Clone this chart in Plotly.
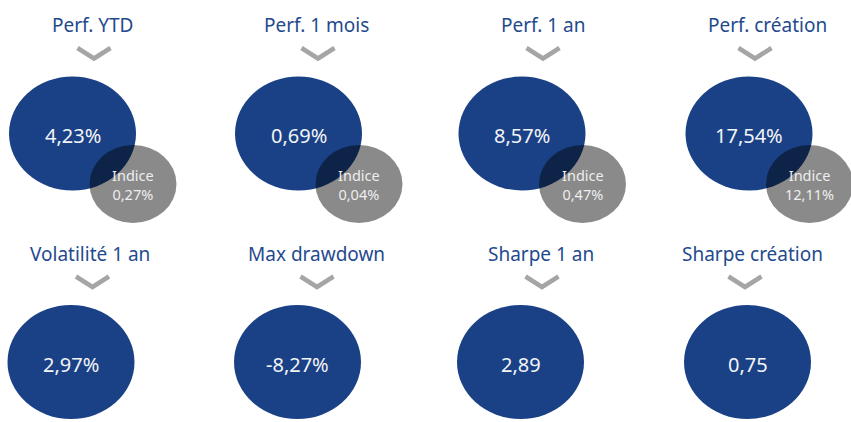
import plotly.graph_objects as go

# ---- data ----
titles = ["Perf. YTD", "Perf. 1 mois", "Perf. 1 an", "Perf. création",
          "Volatilité 1 an", "Max drawdown", "Sharpe 1 an", "Sharpe création"]
fund_values = ["4,23%", "0,69%", "8,57%", "17,54%",
               "2,97%", "-8,27%", "2,89", "0,75"]
index_label = "Indice"
index_values = ["0,27%", "0,04%", "0,47%", "12,11%", None, None, None, None]

# ---- layout constants ----
W, H = 851, 422
BLUE = "#1a4185"
TITLE_BLUE = "#1f4a8e"
CHEV = "#a5a5a5"
FONT = "Noto Sans"

blue_cx = [72.5, 298.5, 522, 749, 71, 297.5, 520.5, 747.5]
row_dy = [0, 0, 0, 0, 228.5, 228.5, 228.5, 228.5]
title_cx = [92, 316, 543, 767, 90, 316.5, 541, 752]
chev_cx = [94, 318, 543, 755, 92.5, 317, 542, 745]

BLUE_CY, BLUE_RX, BLUE_RY = 133.5, 63.5, 57
GRAY_DX, GRAY_DY, GRAY_RX, GRAY_RY = 60.5, 50.5, 43.5, 39

fig = go.Figure()
shapes = []
annotations = []

for i, t in enumerate(titles):
    dy = row_dy[i]
    cx = blue_cx[i]
    cy = BLUE_CY + dy
    # blue ellipse
    shapes.append(dict(type="circle", xref="x", yref="y",
                       x0=cx - BLUE_RX, x1=cx + BLUE_RX,
                       y0=cy - BLUE_RY, y1=cy + BLUE_RY,
                       fillcolor=BLUE, line=dict(width=0), layer="above"))
    # chevron
    ccx = chev_cx[i]
    shapes.append(dict(type="path", xref="x", yref="y",
                       path=f"M {ccx-16.5},{48+dy} L {ccx},{58.5+dy} L {ccx+16.5},{48+dy}",
                       line=dict(color=CHEV, width=4.5), layer="above"))
    # title
    annotations.append(dict(x=title_cx[i], y=25 + dy, xref="x", yref="y",
                            text=t, showarrow=False, xanchor="center", yanchor="middle",
                            font=dict(family=FONT, size=19, color=TITLE_BLUE)))
    # fund value
    annotations.append(dict(x=cx, y=cy + 2, xref="x", yref="y",
                            text=fund_values[i], showarrow=False,
                            xanchor="center", yanchor="middle",
                            font=dict(family=FONT, size=20, color="#f2f4f8")))
    # index ellipse
    if index_values[i] is not None:
        gx, gy = cx + GRAY_DX, cy + GRAY_DY
        shapes.append(dict(type="circle", xref="x", yref="y",
                           x0=gx - GRAY_RX, x1=gx + GRAY_RX,
                           y0=gy - GRAY_RY, y1=gy + GRAY_RY,
                           fillcolor="rgba(0,0,0,0.46)", line=dict(width=0), layer="above"))
        annotations.append(dict(x=gx, y=gy + 0.5, xref="x", yref="y",
                                text=f"{index_label}<br>{index_values[i]}",
                                showarrow=False, align="center",
                                xanchor="center", yanchor="middle",
                                font=dict(family=FONT, size=14.5, color="#eeeeee")))

fig.update_layout(
    width=W, height=H,
    margin=dict(l=0, r=0, t=0, b=0),
    paper_bgcolor="white", plot_bgcolor="white",
    xaxis=dict(range=[0, W], visible=False, fixedrange=True),
    yaxis=dict(range=[H, 0], visible=False, fixedrange=True),
    shapes=shapes, annotations=annotations,
    showlegend=False,
)

fig.write_html("out.html", config={"displayModeBar": False},
               post_script="document.body.style.margin='0px';")
